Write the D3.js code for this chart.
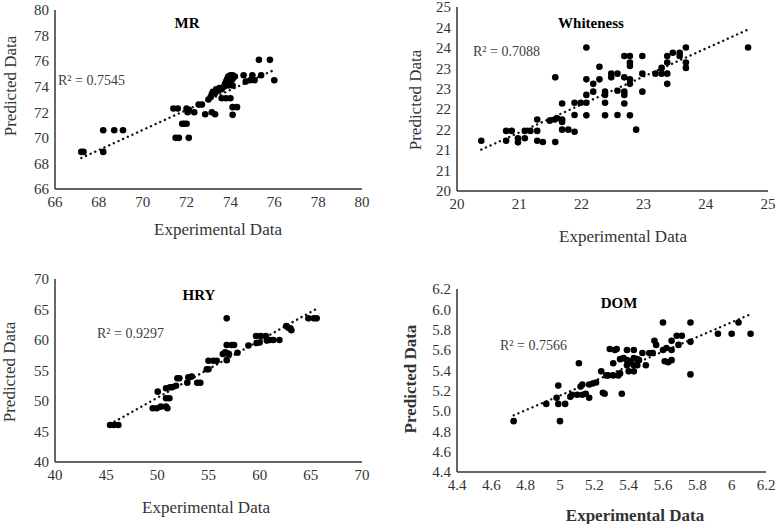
<!DOCTYPE html>
<meta charset="utf-8">
<html>
<style>
body { margin: 0; background: #fff; }
svg { font-family: "Liberation Serif", "Times New Roman", serif; }
.tick-label { font-size: 15px; fill: #333; }
.axis-title { font-size: 17px; fill: #333; }
.panel-title { font-size: 15px; font-weight: bold; fill: #000; }
.r2 { font-size: 14px; fill: #404040; }
.axis-line { stroke: #333; stroke-width: 1.5px; fill: none; }
.trend { stroke: #111; stroke-width: 2.4px; stroke-linecap: round; stroke-dasharray: 0.1 5; fill: none; }
.dot { fill: #000; }
</style>
<body>
<script src="https://cdnjs.cloudflare.com/ajax/libs/d3/7.8.5/d3.min.js"></script>
<script>
	// [experimental, predicted]
	var mrData = [
		[67.2,68.9],[67.3,68.9],[68.2,68.9],[68.2,70.6],[68.7,70.6],[69.1,70.6],
		[71.4,72.3],[71.6,72.3],[71.5,70.0],[71.65,70.0],[72.1,70.0],
		[71.8,71.1],[71.9,71.1],[72.0,71.1],
		[72.0,72.3],[72.1,72.2],[72.05,72.0],[72.35,72.0],[72.55,72.6],[72.7,72.6],
		[72.85,71.85],[73.15,72.0],[73.3,71.85],
		[73.0,73.0],[73.1,73.2],[73.15,73.4],[73.2,73.6],[73.3,73.5],[73.35,73.8],
		[73.45,73.7],[73.5,73.9],[73.6,73.8],[73.7,74.0],[73.75,74.2],[73.8,74.4],
		[73.85,74.6],[73.9,74.8],[74.0,74.9],[74.1,74.9],[74.2,74.8],[74.1,74.6],
		[74.0,74.4],[73.9,74.1],[74.1,74.1],[73.6,73.1],[73.8,73.1],[74.0,73.1],
		[74.1,72.4],[74.3,72.4],[74.1,71.8],
		[74.6,74.9],[74.7,74.4],[74.9,74.5],[75.0,74.9],[75.1,74.5],[75.3,76.1],
		[75.8,76.1],[75.4,74.9],[76.0,74.5]
	];

	var whitenessData = [
		[20.39,21.23],[20.79,21.47],[20.88,21.47],[20.79,21.23],[20.98,21.29],[20.98,21.19],
		[21.09,21.47],[21.09,21.29],[21.18,21.47],[21.29,21.47],[21.29,21.75],[21.29,21.23],
		[21.38,21.2],[21.49,21.72],[21.57,21.75],[21.61,21.78],[21.58,22.78],[21.58,21.2],
		[21.69,22.14],[21.69,21.75],[21.69,21.69],[21.69,21.5],[21.79,21.5],[21.89,21.45],
		[21.89,22.16],[21.89,21.86],[21.99,22.16],[22.08,22.16],[22.08,22.35],[22.08,21.85],
		[22.08,22.73],[22.08,23.51],[22.19,22.62],[22.19,22.43],[22.29,23.04],[22.29,22.73],
		[22.38,22.43],[22.38,22.35],[22.38,22.16],[22.38,21.85],[22.48,22.87],[22.48,22.78],
		[22.58,22.87],[22.58,22.45],[22.58,21.86],[22.69,23.3],[22.78,23.3],[22.69,22.78],
		[22.69,22.43],[22.69,22.35],[22.69,22.14],[22.78,23.14],[22.78,23.06],[22.78,22.73],
		[22.78,22.62],[22.78,21.85],[22.88,21.5],[22.98,23.3],[22.98,22.87],[22.98,22.43],
		[23.19,22.87],[23.29,22.87],[23.29,23.01],[23.38,23.3],[23.38,23.14],[23.38,22.87],
		[23.38,22.62],[23.47,23.38],[23.58,23.38],[23.58,23.3],[23.68,23.51],[23.68,23.14],
		[23.68,23.01],[24.68,23.51]
	];

	var hryData = [
		[45.38,46.07],[45.77,46.07],[46.19,46.07],
		[49.55,48.8],[49.94,48.8],[50.33,49.07],[50.85,49.07],[50.98,48.8],[50.04,51.53],
		[50.85,50.44],[51.18,50.44],[50.85,52.08],[51.24,52.24],[51.5,52.3],[51.83,52.5],
		[51.96,53.72],[52.15,53.72],[53.03,53.88],[53.36,54.0],[52.93,53.0],[53.9,53.0],
		[54.2,53.0],[54.83,55.2],[55.0,55.2],[55.0,56.6],[55.48,56.6],[55.8,56.6],
		[56.4,57.7],[56.78,63.55],[56.78,59.18],[57.27,59.18],[57.5,59.18],[56.62,58.0],
		[56.84,57.8],[57.0,57.7],[56.78,56.7],[57.83,57.9],[58.9,59.1],
		[59.65,60.66],[60.1,60.66],[60.6,60.66],[59.7,59.5],[60.0,59.6],[60.7,59.9],
		[61.0,60.0],[61.34,60.0],[61.93,60.0],[62.6,62.3],[63.0,61.9],[63.1,61.6],
		[62.8,62.0],[64.76,63.55],[65.57,63.55],[65.3,63.55]
	];

	var domData = [
		[4.73,4.9],[4.92,5.07],[4.98,5.13],[4.99,5.25],[4.99,5.07],[5.0,4.9],[5.03,5.07],
		[5.06,5.14],[5.07,5.16],[5.1,5.16],[5.13,5.16],[5.15,5.17],[5.11,5.47],[5.12,5.24],
		[5.13,5.26],[5.17,5.13],[5.17,5.26],[5.19,5.27],[5.21,5.28],[5.24,5.39],[5.25,5.18],
		[5.26,5.17],[5.27,5.35],[5.28,5.35],[5.29,5.61],[5.32,5.6],[5.33,5.61],[5.31,5.47],
		[5.31,5.35],[5.34,5.35],[5.35,5.37],[5.36,5.17],[5.35,5.51],[5.37,5.52],[5.39,5.6],
		[5.43,5.6],[5.39,5.5],[5.41,5.49],[5.43,5.52],[5.45,5.51],[5.46,5.5],[5.39,5.45],
		[5.43,5.45],[5.45,5.45],[5.5,5.45],[5.4,5.39],[5.43,5.39],[5.48,5.57],[5.52,5.57],
		[5.54,5.57],[5.55,5.69],[5.56,5.65],[5.6,5.87],[5.6,5.6],[5.62,5.62],[5.65,5.6],
		[5.61,5.49],[5.63,5.48],[5.65,5.5],[5.65,5.69],[5.68,5.74],[5.71,5.74],[5.69,5.65],
		[5.76,5.87],[5.76,5.68],[5.76,5.36],[5.92,5.76],[6.0,5.76],[6.04,5.87],[6.11,5.76]
	];

	var mrTicks = [66, 68, 70, 72, 74, 76, 78, 80];
	var whitenessXTicks = [20, 21, 22, 23, 24, 25];
	var whitenessYTicks = [20, 20.5, 21, 21.5, 22, 22.5, 23, 23.5, 24, 24.5];
	var whitenessYLabels = ["20", "21", "21", "22", "22", "23", "23", "24", "24", "25"];
	var hryTicks = [40, 45, 50, 55, 60, 65, 70];
	var domTicks = [4.4, 4.6, 4.8, 5.0, 5.2, 5.4, 5.6, 5.8, 6.0, 6.2];
	var domXLabels = ["4.4", "4.6", "4.8", "5", "5.2", "5.4", "5.6", "5.8", "6", "6.2"];
	var domYLabels = ["4.4", "4.6", "4.8", "5.0", "5.2", "5.4", "5.6", "5.8", "6.0", "6.2"];

	var titles = ["MR", "Whiteness", "HRY", "DOM"];
	var rSquared = ["0.7545", "0.7088", "0.9297", "0.7566"];

	var svg = d3.select("body").append("svg")
		.attr("width", 777)
		.attr("height", 524);

	var panels = [
		{data: mrData, left: 55, right: 362, top: 10, bottom: 189,
			xDomain: [66, 80], yDomain: [66, 80], xTicks: mrTicks, yTicks: mrTicks,
			title: [187, 23], r2: [58, 80], xTitle: [218, 229], yTitle: [10, 86], bold: false},
		{data: whitenessData, left: 457, right: 768, top: 7, bottom: 191,
			xDomain: [20, 25], yDomain: [20, 24.5], xTicks: whitenessXTicks, yTicks: whitenessYTicks,
			yLabels: whitenessYLabels,
			title: [591, 23], r2: [473, 51], xTitle: [623, 236], yTitle: [415, 100], bold: false},
		{data: hryData, left: 55, right: 362, top: 279, bottom: 462,
			xDomain: [40, 70], yDomain: [40, 70], xTicks: hryTicks, yTicks: hryTicks,
			title: [199, 295], r2: [97, 333], xTitle: [206, 507], yTitle: [9, 372], bold: false},
		{data: domData, left: 457, right: 766, top: 289, bottom: 472,
			xDomain: [4.4, 6.2], yDomain: [4.4, 6.2], xTicks: domTicks, yTicks: domTicks,
			xLabels: domXLabels, yLabels: domYLabels,
			title: [619, 303], r2: [500, 345], xTitle: [635, 515], yTitle: [410, 379], bold: true}
	];

	panels.forEach(function(p, i) { drawPanel(p, titles[i], rSquared[i]); });

	function fitLine(data) {
		var mx = d3.mean(data, d => d[0]);
		var my = d3.mean(data, d => d[1]);
		var sxy = d3.sum(data, d => (d[0] - mx) * (d[1] - my));
		var sxx = d3.sum(data, d => (d[0] - mx) * (d[0] - mx));
		var slope = sxy / sxx;
		return function(x) { return my + slope * (x - mx); };
	}

	function drawPanel(p, title, r2) {
		var g = svg.append("g");
		var x = d3.scaleLinear().domain(p.xDomain).range([p.left, p.right]);
		var y = d3.scaleLinear().domain(p.yDomain).range([p.bottom, p.top]);

		// axis lines, no tick marks
		g.append("line").attr("class", "axis-line")
			.attr("x1", p.left).attr("x2", p.left).attr("y1", p.top).attr("y2", p.bottom);
		g.append("line").attr("class", "axis-line")
			.attr("x1", p.left).attr("x2", p.right).attr("y1", p.bottom).attr("y2", p.bottom);

		g.selectAll(".xt").data(p.xTicks).enter().append("text")
			.attr("class", "tick-label")
			.attr("x", d => x(d))
			.attr("y", p.bottom + 18)
			.attr("text-anchor", "middle")
			.text((d, i) => p.xLabels ? p.xLabels[i] : d);

		g.selectAll(".yt").data(p.yTicks).enter().append("text")
			.attr("class", "tick-label")
			.attr("x", p.left - 6)
			.attr("y", d => y(d))
			.attr("dy", "0.35em")
			.attr("text-anchor", "end")
			.text((d, i) => p.yLabels ? p.yLabels[i] : d);

		// trendline from least squares, drawn across the data's x range
		var f = fitLine(p.data);
		var xr = d3.extent(p.data, d => d[0]);
		g.append("line").attr("class", "trend")
			.attr("x1", x(xr[0])).attr("y1", y(f(xr[0])))
			.attr("x2", x(xr[1])).attr("y2", y(f(xr[1])));

		g.selectAll("circle").data(p.data).enter().append("circle")
			.attr("class", "dot")
			.attr("cx", d => x(d[0]))
			.attr("cy", d => y(d[1]))
			.attr("r", 3.3);

		g.append("text").attr("class", "panel-title")
			.attr("x", p.title[0]).attr("y", p.title[1]).attr("dy", "0.35em")
			.attr("text-anchor", "middle").text(title);

		g.append("text").attr("class", "r2")
			.attr("x", p.r2[0]).attr("y", p.r2[1]).attr("dy", "0.35em")
			.text("R\u00b2 = " + r2);

		g.append("text").attr("class", "axis-title")
			.attr("x", p.xTitle[0]).attr("y", p.xTitle[1]).attr("dy", "0.35em")
			.attr("text-anchor", "middle")
			.style("font-weight", p.bold ? "bold" : null)
			.text("Experimental Data");

		g.append("text").attr("class", "axis-title")
			.attr("transform", "translate(" + p.yTitle[0] + "," + p.yTitle[1] + ") rotate(-90)")
			.attr("dy", "0.35em")
			.attr("text-anchor", "middle")
			.style("font-weight", p.bold ? "bold" : null)
			.text("Predicted Data");
	}
</script>
</body>
</html>
